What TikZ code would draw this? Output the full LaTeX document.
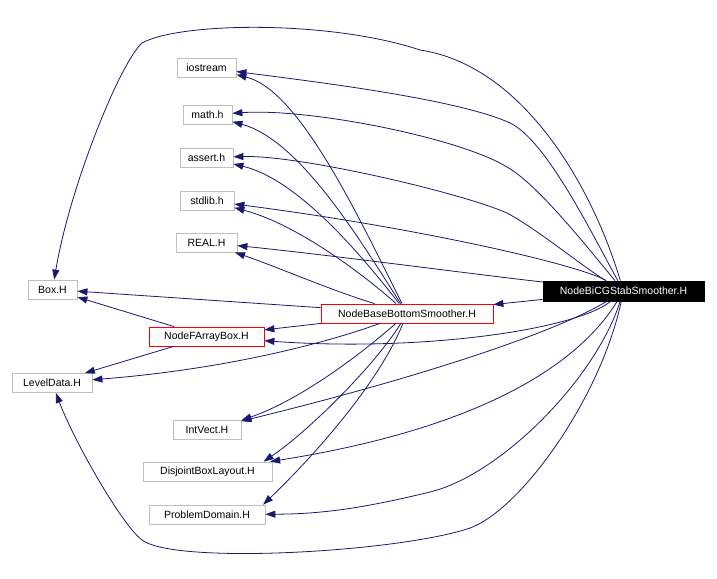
\documentclass[tikz,border=0pt]{standalone}
\usepackage{fontspec}
\setmainfont{Liberation Sans}
\usetikzlibrary{arrows.meta}

\definecolor{edgeblue}{RGB}{25,25,112}
\definecolor{boxgray}{RGB}{191,191,191}

\begin{document}
\begin{tikzpicture}[x=1pt, y=-1pt,
    font=\fontsize{10.5}{12}\selectfont,
    hfile/.style={draw=boxgray, line width=0.8pt, inner sep=0pt, minimum height=19pt},
    hred/.style={hfile, draw=red},
    hmain/.style={hfile, draw=black, fill=black, text=white, minimum height=20pt},
    inc/.style={edgeblue, line width=0.8pt, -{Triangle[length=10pt,width=7pt]}}]
  % include graph of NodeBiCGStabSmoother.H (pixel grid, y downwards)
  \useasboundingbox (0,0) rectangle (717,578);

  % --- headers ---
  \node[hfile, minimum width=59pt]  (iostream) at (206.5,67.5)  {iostream};
  \node[hfile, minimum width=49pt]  (mathh)    at (207.5,115)   {math.h};
  \node[hfile, minimum width=53pt]  (asserth)  at (206.5,157.5) {assert.h};
  \node[hfile, minimum width=54pt]  (stdlibh)  at (207,200.5)   {stdlib.h};
  \node[hfile, minimum width=61pt]  (realh)    at (206.5,242.5) {REAL.H};
  \node[hfile, minimum width=49pt]  (boxh)     at (52.5,289.5)  {Box.H};
  \node[hred,  minimum width=115pt] (fabox)    at (206.5,336.5) {NodeFArrayBox.H};
  \node[hfile, minimum width=80pt]  (levdata)  at (52,383)      {LevelData.H};
  \node[hred,  minimum width=172pt] (nbbs)     at (407,313.5)   {NodeBaseBottomSmoother.H};
  \node[hmain, minimum width=161pt] (bicg)     at (623.5,291)   {NodeBiCGStabSmoother.H};
  \node[hfile, minimum width=68pt]  (intvect)  at (207,429.5)   {IntVect.H};
  \node[hfile, minimum width=129pt] (dbl)      at (207.5,471.5) {DisjointBoxLayout.H};
  \node[hfile, minimum width=116pt] (probdom)  at (207,514.5)   {ProblemDomain.H};

  % --- includes of NodeBiCGStabSmoother.H ---
  \draw[inc] (bicg) .. controls (590,180) and (520,65) .. (420,50)
    .. controls (330,20) and (180,22) .. (142,43)
    .. controls (120,63) and (70,186) .. (boxh);
  \draw[inc] (bicg) .. controls (591,232) and (546,140) .. (510,123)
    .. controls (456,98) and (300,80) .. (iostream);
  \draw[inc] (bicg) .. controls (584,243) and (537,184) .. (507,167)
    .. controls (460,138) and (310,108) .. (mathh);
  \draw[inc] (bicg) .. controls (586,269) and (537,229) .. (507,213)
    .. controls (462,193) and (300,155) .. (asserth);
  \draw[inc] (bicg) .. controls (580,265) and (420,228) .. (stdlibh);
  \draw[inc] (bicg) .. controls (480,275) and (330,255) .. (realh);
  \draw[inc] (bicg) -- (nbbs);
  \draw[inc] (bicg) .. controls (575,330) and (420,352) .. (fabox);
  \draw[inc] (bicg) .. controls (560,330) and (430,375) .. (intvect);
  \draw[inc] (bicg) .. controls (575,370) and (470,430) .. (dbl);
  \draw[inc] (bicg) .. controls (595,380) and (500,475) .. (430,492)
    .. controls (360,509) and (320,514) .. (probdom);
  \draw[inc] (bicg) .. controls (600,400) and (520,510) .. (470,528)
    .. controls (400,552) and (175,565) .. (142,540)
    .. controls (122,525) and (75,443) .. (levdata);

  % --- includes of NodeBaseBottomSmoother.H ---
  \draw[inc] (nbbs) .. controls (360,220) and (300,90) .. (iostream);
  \draw[inc] (nbbs) .. controls (360,240) and (300,140) .. (mathh);
  \draw[inc] (nbbs) .. controls (365,260) and (300,180) .. (asserth);
  \draw[inc] (nbbs) .. controls (370,280) and (300,225) .. (stdlibh);
  \draw[inc] (nbbs) .. controls (330,290) and (280,268) .. (realh);
  \draw[inc] (nbbs) -- (boxh);
  \draw[inc] (nbbs) -- (fabox);
  \draw[inc] (nbbs) .. controls (340,338) and (240,368) .. (levdata);
  \draw[inc] (nbbs) .. controls (360,355) and (300,400) .. (intvect.15);
  \draw[inc] (nbbs) .. controls (375,365) and (310,430) .. (dbl.10);
  \draw[inc] (nbbs) .. controls (380,380) and (320,450) .. (probdom.10);

  % --- includes of NodeFArrayBox.H ---
  \draw[inc] (fabox) -- (boxh);
  \draw[inc] (fabox) -- (levdata);
\end{tikzpicture}
\end{document}
